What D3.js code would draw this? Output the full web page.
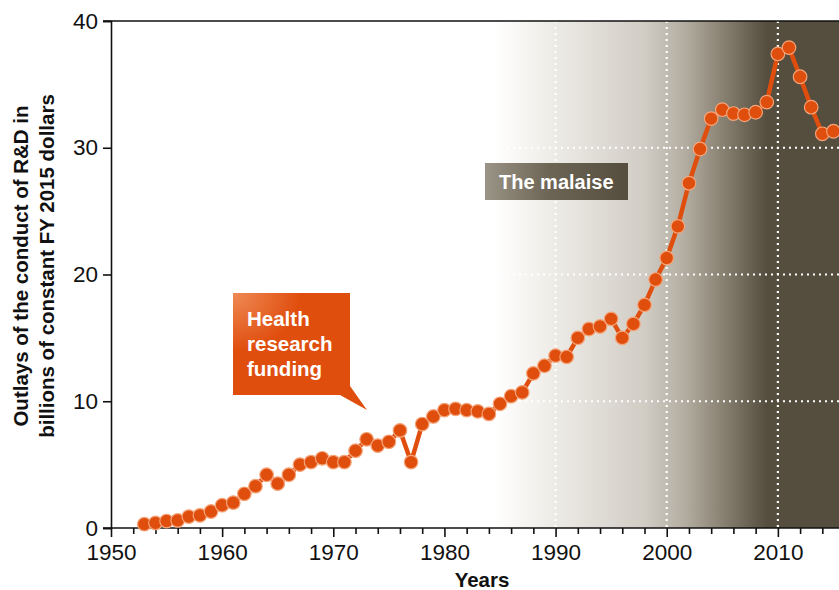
<!DOCTYPE html>
<html><head><meta charset="utf-8">
<script src="https://cdn.jsdelivr.net/npm/d3@7"></script>
<style>body{margin:0;background:#fff}svg{display:block;font-family:"Liberation Sans",Arial,sans-serif}</style>
</head><body><svg id="c" width="839" height="590"></svg>
<script>
const years = [1953,1954,1955,1956,1957,1958,1959,1960,1961,1962,1963,1964,1965,1966,1967,1968,1969,1970,1971,1972,1973,1974,1975,1976,1977,1978,1979,1980,1981,1982,1983,1984,1985,1986,1987,1988,1989,1990,1991,1992,1993,1994,1995,1996,1997,1998,1999,2000,2001,2002,2003,2004,2005,2006,2007,2008,2009,2010,2011,2012,2013,2014,2015];
const outlays = [0.3,0.4,0.55,0.6,0.9,1.0,1.3,1.8,2.0,2.7,3.3,4.2,3.5,4.2,5.0,5.2,5.5,5.2,5.2,6.1,7.0,6.5,6.8,7.7,5.2,8.2,8.8,9.3,9.4,9.3,9.2,9.0,9.8,10.4,10.7,12.2,12.8,13.6,13.5,15.0,15.7,15.9,16.5,15.0,16.1,17.6,19.6,21.3,23.8,27.2,29.9,32.3,33.0,32.7,32.6,32.8,33.6,37.4,37.9,35.6,33.2,31.1,31.3];
const yTicks = [0,10,20,30,40];
const xLabelTicks = [1950,1960,1970,1980,1990,2000,2010];
const xMinorTicks = d3.range(1950,2016,2);
const gridYears = [1990,2000,2010];
const gridValues = [10,20,30];
const calloutLines = ["Health","research","funding"];
const malaiseLabel = "The malaise";

const svg = d3.select("#c");
const x = d3.scaleLinear().domain([1950,2015.5]).range([111,839]);
const y = d3.scaleLinear().domain([0,40]).range([528,21]);
const orange = "#e04e0e";
const dark = "#554d3e";
const tickFont = "'Liberation Sans Narrow','Arial Narrow','Liberation Sans',sans-serif";

const defs = svg.append("defs");
const bg = defs.append("linearGradient").attr("id","bg").attr("gradientUnits","userSpaceOnUse")
  .attr("x1",x(1984.5)).attr("x2",x(2009)).attr("y1",0).attr("y2",0);
[[0,"#ffffff"],[0.2,"#efede8"],[0.55,"#d1cdc5"],[0.7,"#b3ada1"],[0.85,"#857d6e"],[1,dark]].forEach(s=>bg.append("stop").attr("offset",s[0]).attr("stop-color",s[1]));
const mg = defs.append("linearGradient").attr("id","mg");
[[0,"#9b9587"],[0.45,"#6c6454"],[1,dark]].forEach(s=>mg.append("stop").attr("offset",s[0]).attr("stop-color",s[1]));
const cg = defs.append("radialGradient").attr("id","cg").attr("cx","0").attr("cy","0").attr("r","0.5");
[[0,"#ef8a55"],[1,orange]].forEach(s=>cg.append("stop").attr("offset",s[0]).attr("stop-color",s[1]));

svg.append("rect").attr("x",x(1950)).attr("y",y(40)).attr("width",x(2015.5)-x(1950)).attr("height",y(0)-y(40)).attr("fill","url(#bg)");

// gridlines
svg.append("g").selectAll("line").data(gridValues).join("line")
  .attr("x1",x(1950)).attr("x2",x(2015.5)).attr("y1",d=>y(d)).attr("y2",d=>y(d))
  .attr("stroke","#fff").attr("stroke-width",2.2).attr("stroke-dasharray","2,4");
svg.append("g").selectAll("line").data(gridYears).join("line")
  .attr("x1",d=>x(d)).attr("x2",d=>x(d)).attr("y1",y(40)).attr("y2",y(0))
  .attr("stroke","#fff").attr("stroke-width",2.2).attr("stroke-dasharray","2,4");

// top frame line
svg.append("line").attr("x1",103).attr("x2",839).attr("y1",y(40)).attr("y2",y(40)).attr("stroke","#111").attr("stroke-width",1.6);

// axes
const ya = svg.append("g").attr("transform",`translate(${x(1950)},0)`)
  .call(d3.axisLeft(y).tickValues(yTicks).tickSize(8).tickPadding(5));
ya.selectAll("text").attr("font-size",22.5).attr("fill","#111").attr("font-family",tickFont);
ya.select(".domain").attr("stroke","#111").attr("stroke-width",1.6);
ya.selectAll(".tick line").attr("stroke","#111").attr("stroke-width",1.6);

const xa = svg.append("g").attr("transform",`translate(0,${y(0)})`)
  .call(d3.axisBottom(x).tickValues(xMinorTicks).tickSize(6).tickFormat(d=>xLabelTicks.includes(d)?d:"").tickPadding(6));
xa.selectAll(".tick line").attr("stroke","#111").attr("stroke-width",1.6).attr("y2",d=>xLabelTicks.includes(d)?9:6);
xa.selectAll("text").attr("font-size",22.5).attr("fill","#111").attr("font-family",tickFont).attr("dy","0.9em").attr("y",12);
xa.select(".domain").attr("d",`M103,0H839`).attr("stroke","#111").attr("stroke-width",1.6);

// line and points
const pts = years.map((yr,i)=>[yr,outlays[i]]);
svg.append("path").datum(pts).attr("fill","none").attr("stroke",orange).attr("stroke-width",4.5)
  .attr("stroke-linejoin","round").attr("d",d3.line().x(d=>x(d[0])).y(d=>y(d[1])));
svg.append("g").selectAll("circle").data(pts).join("circle")
  .attr("cx",d=>x(d[0])).attr("cy",d=>y(d[1])).attr("r",6.8)
  .attr("fill",orange).attr("stroke","#f4a57a").attr("stroke-width",1.2);

// callout: health research funding
svg.append("path").attr("d","M233,293H350V386L367,410L340,395H233Z").attr("fill","url(#cg)");
svg.append("text").attr("font-size",20.5).attr("font-weight","bold").attr("fill","#fff")
  .selectAll("tspan").data(calloutLines).join("tspan").attr("x",247).attr("y",(d,i)=>326+i*25).text(d=>d);

// malaise box
svg.append("rect").attr("x",485).attr("y",163).attr("width",143).attr("height",37).attr("fill","url(#mg)");
svg.append("text").attr("x",499).attr("y",189).attr("font-size",20).attr("font-weight","bold").attr("fill","#fff").text(malaiseLabel);

// axis titles
svg.append("text").attr("x",482).attr("y",587).attr("text-anchor","middle").attr("font-size",20.5).attr("font-weight","bold").attr("fill","#111").text("Years");
const yt = svg.append("text").attr("transform","translate(0,266) rotate(-90)").attr("text-anchor","middle").attr("font-size",20.5).attr("font-weight","bold").attr("fill","#111");
yt.append("tspan").attr("x",0).attr("y",28).text("Outlays of the conduct of R&D in");
yt.append("tspan").attr("x",0).attr("y",54).text("billions of constant FY 2015 dollars");
</script></body></html>
